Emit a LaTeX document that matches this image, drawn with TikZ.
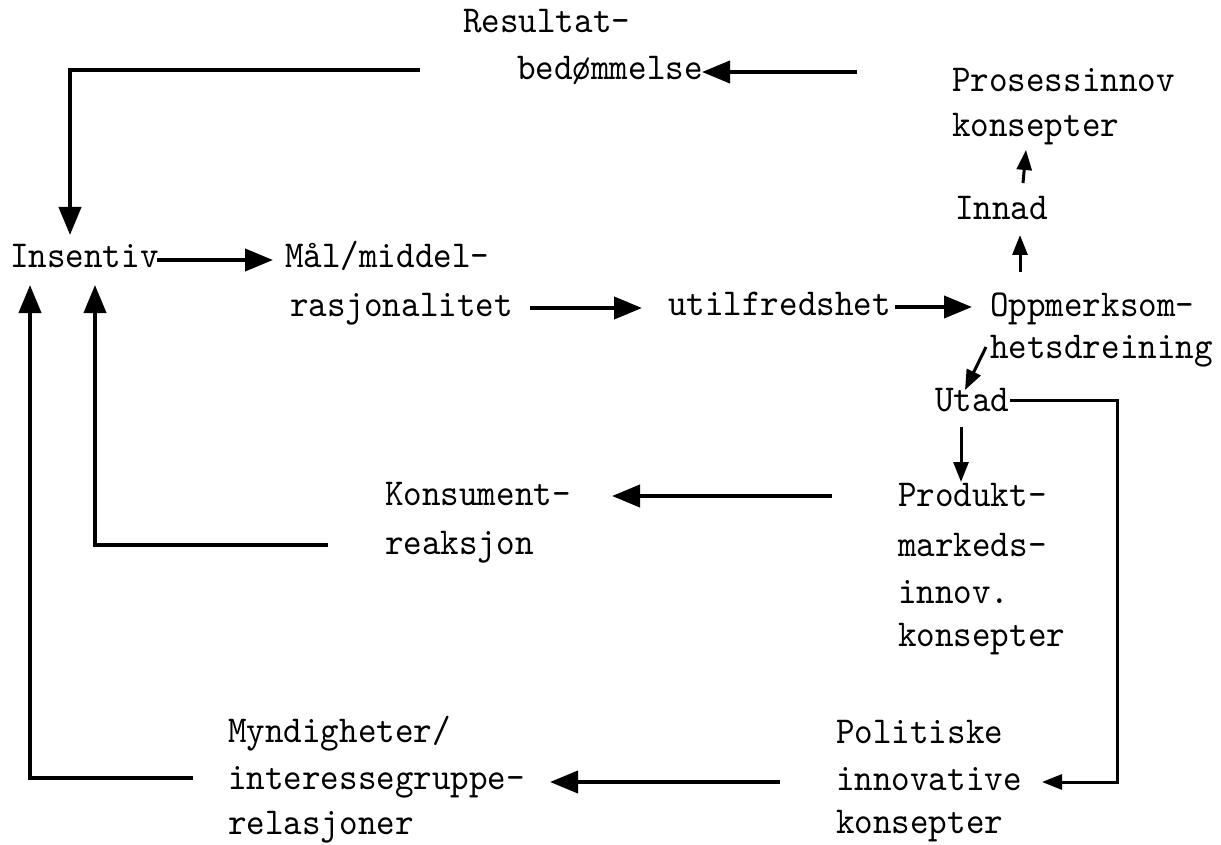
\documentclass[tikz,border=0pt]{standalone}
\usepackage{fontspec}
\newfontfamily\tw{lmmono10-regular.otf}[FakeStretch=0.93]
\usetikzlibrary{arrows.meta,calc}
\begin{document}
\begin{tikzpicture}[x=1pt,y=-1pt,
  lbl/.style={anchor=base west, inner sep=0pt, font=\tw\fontsize{38}{46}\selectfont},
  flow/.style={line width=4pt, -{Triangle[length=28pt,width=22pt]}},
  thinflow/.style={line width=3pt, -{Triangle[length=20pt,width=15pt]}}]
\useasboundingbox (0,0) rectangle (1221,845);

% labels (placed by their baselines)
\node[lbl] (res1) at (463,33) {Resultat-};
\node[lbl] (res2) at (517,80) {bedømmelse};
\node[lbl] (pro1) at (952,92) {Prosessinnov};
\node[lbl] (pro2) at (952,137) {konsepter};
\node[lbl] (inn) at (955,220) {Innad};
\node[lbl] (ins) at (10,268) {Insentiv};
\node[lbl] (mal1) at (285,267) {Mål/middel-};
\node[lbl] (mal2) at (290,316) {rasjonalitet};
\node[lbl] (uti) at (668,315) {utilfredshet};
\node[lbl] (opp1) at (990,316) {Oppmerksom-};
\node[lbl] (opp2) at (990,358) {hetsdreining};
\node[lbl] (uta) at (935,411) {Utad};
\node[lbl] (kon1) at (385,505) {Konsument-};
\node[lbl] (kon2) at (385,554) {reaksjon};
\node[lbl] (prd1) at (898,506) {Produkt-};
\node[lbl] (prd2) at (898,556) {markeds-};
\node[lbl] (prd3) at (898,603) {innov.};
\node[lbl] (prd4) at (898,646) {konsepter};
\node[lbl] (myn1) at (228,742) {Myndigheter/};
\node[lbl] (myn2) at (228,789) {interessegruppe-};
\node[lbl] (myn3) at (228,834) {relasjoner};
\node[lbl] (pol1) at (836,743) {Politiske};
\node[lbl] (pol2) at (836,790) {innovative};
\node[lbl] (pol3) at (836,833) {konsepter};

% free line ends
\coordinate (resin) at ($(res2.base west)+(340,-8)$);
\coordinate (resout) at ($(res2.base west)+(-97,-10)$);
\coordinate (konout) at ($(kon2.base west)+(-57,-9)$);
\coordinate (mynout) at ($(myn2.base west)+(-35,-11)$);

% connectors
\draw[flow] (resin) -- ($(res2.base west)+(185,-8)$);
\draw[flow] (resout) -| ($(ins.base west)+(60,-33)$);
\draw[flow] ($(ins.base west)+(147,-8)$) -- ($(mal1.base west)+(-12,-7)$);
\draw[flow] ($(mal2.base west)+(240,-8)$) -- ($(uti.base west)+(-26,-7)$);
\draw[flow] ($(uti.base west)+(227,-8)$) -- ($(opp1.base west)+(-18,-9)$);
\draw[thinflow] ($(inn.base west)+(65,52)$) -- ($(inn.base west)+(65,15)$);
\draw[thinflow] ($(inn.base west)+(68,-37)$) -- ($(pro2.base west)+(74,13)$);
\draw[thinflow] ($(opp2.base west)+(-4,-11)$) -- ($(uta.base west)+(30,-21)$);
\draw[thinflow] ($(uta.base west)+(26,16)$) -- ($(prd1.base west)+(63,-24)$);
\draw[thinflow] ($(uta.base west)+(75,-11)$) -- ++(107,0) |- ($(pol2.base west)+(206,-8)$);
\draw[flow] ($(prd1.base west)+(-66,-10)$) -- ($(kon1.base west)+(227,-9)$);
\draw[flow] (konout) -| ($(ins.base west)+(85,17)$);
\draw[flow] (mynout) -| ($(ins.base west)+(20,17)$);
\draw[flow] ($(pol2.base west)+(-56,-8)$) -- ($(myn2.base west)+(322,-7)$);
\end{tikzpicture}
\end{document}
